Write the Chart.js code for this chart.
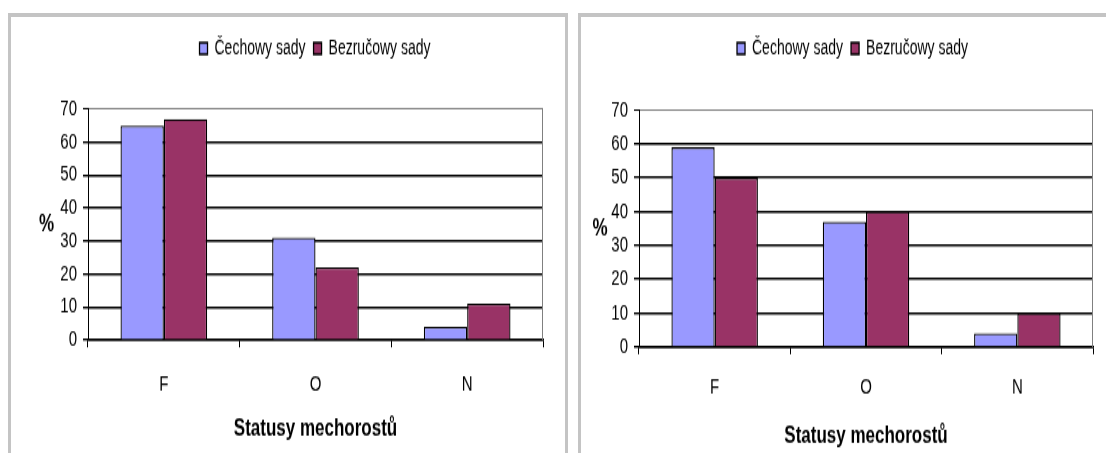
<!DOCTYPE html>
<html>
<head>
<meta charset="utf-8">
<script src="https://cdn.jsdelivr.net/npm/chart.js@4/dist/chart.umd.min.js"></script>
<style>
  html, body { margin: 0; background: #fff; overflow: hidden; }
  body { width: 1106px; height: 453px; position: relative; }
  .panel { position: absolute; top: 13px; height: 460px; box-sizing: border-box;
           border: 3px solid #c4c4c4; border-top-width: 4px; border-bottom: none; }
  /* charts are drawn squat and stretched tall, like the exported originals */
  .stretch { position: absolute; top: 18px; transform: scaleY(1.45); transform-origin: 0 0; }
</style>
</head>
<body>
<div class="panel" style="left:8px; width:560px"></div>
<div class="panel" style="left:578px; width:560px"></div>
<div class="stretch" style="left:11px"><canvas id="chart1" width="608" height="300"></canvas></div>
<div class="stretch" style="left:581px"><canvas id="chart2" width="543" height="300"></canvas></div>

<script>
const categories = ['F', 'O', 'N'];
const seriesNames = ['Čechowy sady', 'Bezručowy sady'];
const seriesColors = ['#9999ff', '#993366'];

// left panel
const cechowy1 = [65, 31, 4];
const bezrucowy1 = [67, 22, 11];
// right panel
const cechowy2 = [59, 37, 4];
const bezrucowy2 = [50, 40, 10];

const yMax = 70;
const yStep = 10;
const xTitle = 'Statusy mechorostů';
const yTitle = '%';

Chart.defaults.font.family = '"Liberation Sans", Arial, sans-serif';
Chart.defaults.color = '#000';

// grey plot-area edge on the right and the upright "%" next to the value axis
const plotFrame = {
  id: 'plotFrame',
  beforeDatasetsDraw(chart) {
    const { ctx, chartArea: a } = chart;
    ctx.save();
    ctx.strokeStyle = '#808080';
    ctx.lineWidth = 1;
    ctx.beginPath();
    ctx.moveTo(a.right - 0.5, a.top);
    ctx.lineTo(a.right - 0.5, a.bottom);
    ctx.stroke();
    ctx.restore();
  },
  afterDraw(chart, args, opts) {
    const { ctx, chartArea: a } = chart;
    ctx.save();
    ctx.fillStyle = '#000';
    ctx.font = 'bold 17px "Liberation Sans", Arial, sans-serif';
    ctx.textAlign = 'center';
    ctx.textBaseline = 'middle';
    ctx.fillText(opts.text, opts.x, (a.top + a.bottom) / 2);
    ctx.restore();
  }
};

// invisible axis used only to reserve space beside the plot
function spacer(position, size) {
  const horizontal = position === 'top' || position === 'bottom';
  return {
    type: 'linear',
    position,
    grid: { display: false },
    border: { display: false },
    ticks: { display: false },
    afterFit: s => { if (horizontal) s.height = size; else s.width = size; }
  };
}

function buildChart(canvasId, cechowy, bezrucowy, box) {
  const values = [cechowy, bezrucowy];
  return new Chart(document.getElementById(canvasId), {
    type: 'bar',
    data: {
      labels: categories,
      datasets: seriesNames.map((name, i) => ({
        label: name,
        data: values[i],
        backgroundColor: seriesColors[i],
        borderColor: '#000',
        borderWidth: 1.3,
        categoryPercentage: 2 / 3.5,
        barPercentage: 1
      }))
    },
    options: {
      responsive: false,
      animation: false,
      layout: { padding: { top: 6 } },
      plugins: {
        legend: {
          position: 'top',
          labels: { boxWidth: 8, boxHeight: 8, padding: 8, font: { size: 14 } }
        },
        tooltip: { enabled: false },
        plotFrame: { text: yTitle, x: box.titleX }
      },
      scales: {
        x: {
          grid: { drawOnChartArea: false, color: '#000', tickLength: 5 },
          border: { color: '#000', width: 1.4 },
          ticks: { font: { size: 15 }, padding: box.tickPad },
          title: {
            display: true,
            text: xTitle,
            font: { size: 17, weight: 'bold' },
            padding: { top: 0, bottom: box.titlePad }
          },
          afterFit: s => { s.height = box.xHeight; }
        },
        y: {
          min: 0,
          max: yMax,
          ticks: { stepSize: yStep, font: { size: 15 }, padding: 6 },
          grid: {
            color: c => (c.tick && c.tick.value === yMax ? '#808080' : '#000'),
            lineWidth: c => (c.tick && c.tick.value === yMax ? 1 : 1.4),
            tickColor: '#000',
            tickLength: 5
          },
          border: { color: '#000' },
          afterFit: s => { s.width = box.yWidth; }
        },
        topGap: spacer('top', box.topGap),
        rightGap: spacer('right', box.rightGap)
      }
    },
    plugins: [plotFrame]
  });
}

buildChart('chart1', cechowy1, bezrucowy1,
  { yWidth: 77, rightGap: 76, topGap: 24.8, xHeight: 77.9, tickPad: 16.5, titlePad: 6, titleX: 35.5 });
buildChart('chart2', cechowy2, bezrucowy2,
  { yWidth: 58, rightGap: 31, topGap: 25.4, xHeight: 73.1, tickPad: 13.5, titlePad: 1, titleX: 19 });
</script>
</body>
</html>
